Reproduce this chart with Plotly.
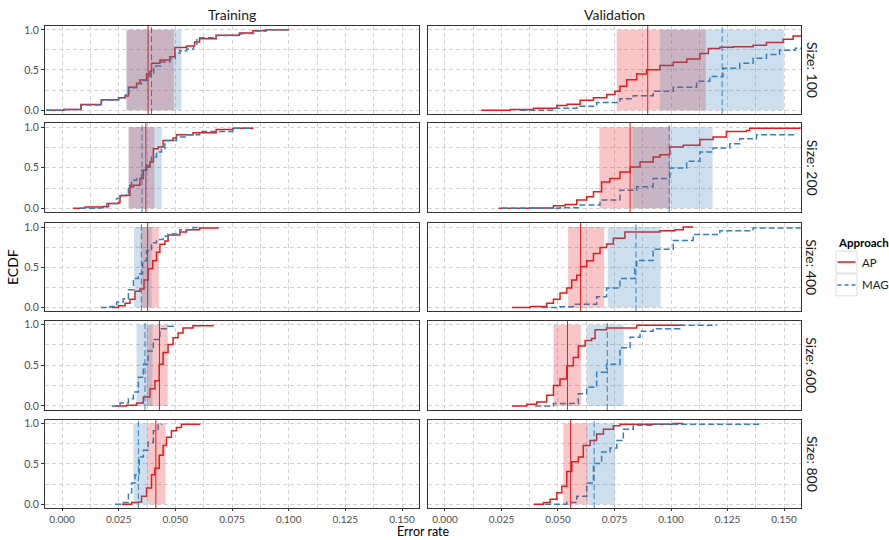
import plotly.graph_objects as go

W, H = 889, 540
RED = "#E41A1C"
BLUE = "#377EB8"
FONT = "Lato"

SIZES = ["100", "200", "400", "600", "800"]
SETS = ["Training", "Validation"]
X_TICKS = [0.0, 0.025, 0.05, 0.075, 0.1, 0.125, 0.15]
Y_TICKS = [0.0, 0.5, 1.0]

# ---------------- ECDF knots (error rate, cumulative share) ----------------
# Training, size 100
TR100_AP_X = [-0.007, 0.0007, 0.0083, 0.0173, 0.0249, 0.0278, 0.0293, 0.0329, 0.0344, 0.0373, 0.0388, 0.0395, 0.0432, 0.0476, 0.0498, 0.0549, 0.0585, 0.0607, 0.068, 0.0783, 0.0842, 0.09, 0.1003]
TR100_AP_Y = [0, 0.008, 0.069, 0.13, 0.155, 0.175, 0.286, 0.335, 0.375, 0.449, 0.482, 0.584, 0.625, 0.665, 0.779, 0.8, 0.85, 0.89, 0.934, 0.96, 0.99, 1.0, 1.0]
TR100_MAG_X = [-0.007, 0.001, 0.0085, 0.0175, 0.025, 0.028, 0.0295, 0.033, 0.035, 0.0375, 0.039, 0.0405, 0.0435, 0.0476, 0.050, 0.052, 0.055, 0.058, 0.0595, 0.068, 0.079, 0.085, 0.09, 0.1]
TR100_MAG_Y = [0, 0.008, 0.065, 0.125, 0.15, 0.19, 0.28, 0.33, 0.37, 0.42, 0.46, 0.55, 0.6, 0.64, 0.71, 0.74, 0.76, 0.8, 0.9, 0.93, 0.955, 0.985, 1.0, 1.0]
# Validation, size 100
VA100_AP_X = [0.016, 0.0289, 0.0392, 0.0495, 0.054, 0.0598, 0.0657, 0.0716, 0.0752, 0.0774, 0.0804, 0.0848, 0.0892, 0.0951, 0.101, 0.107, 0.1128, 0.1165, 0.1216, 0.1275, 0.1363, 0.1422, 0.1496, 0.154, 0.16]
VA100_AP_Y = [0, 0.008, 0.024, 0.057, 0.073, 0.122, 0.155, 0.196, 0.236, 0.298, 0.38, 0.449, 0.502, 0.555, 0.596, 0.637, 0.706, 0.768, 0.784, 0.788, 0.808, 0.841, 0.882, 0.922, 0.922]
VA100_MAG_X = [0.0333, 0.048, 0.0583, 0.0671, 0.0774, 0.0833, 0.0921, 0.101, 0.1113, 0.1172, 0.123, 0.1304, 0.1363, 0.1422, 0.148, 0.155, 0.16]
VA100_MAG_Y = [0, 0.024, 0.049, 0.094, 0.142, 0.179, 0.236, 0.286, 0.359, 0.42, 0.522, 0.584, 0.645, 0.694, 0.747, 0.772, 0.776]
# Training, size 200
TR200_AP_X = [0.0048, 0.0102, 0.0183, 0.0205, 0.0249, 0.0256, 0.0285, 0.03, 0.0315, 0.0344, 0.0359, 0.0373, 0.0388, 0.0403, 0.0424, 0.0446, 0.049, 0.0505, 0.0578, 0.068, 0.0754, 0.0841]
TR200_AP_Y = [0, 0.016, 0.024, 0.061, 0.073, 0.155, 0.163, 0.265, 0.286, 0.367, 0.469, 0.51, 0.571, 0.735, 0.755, 0.837, 0.865, 0.906, 0.93, 0.971, 0.988, 1.0]
TR200_MAG_X = [0.008, 0.0168, 0.0198, 0.0241, 0.0256, 0.0293, 0.0307, 0.0329, 0.0351, 0.0373, 0.0395, 0.0417, 0.0439, 0.0454, 0.0505, 0.0549, 0.0607, 0.0754, 0.0827]
TR200_MAG_Y = [0, 0.008, 0.061, 0.122, 0.163, 0.286, 0.347, 0.367, 0.469, 0.531, 0.633, 0.694, 0.735, 0.837, 0.878, 0.906, 0.947, 0.988, 1.0]
# Validation, size 200
VA200_AP_X = [0.0237, 0.0377, 0.048, 0.0532, 0.0583, 0.0627, 0.0657, 0.0693, 0.073, 0.0774, 0.0819, 0.0863, 0.0921, 0.0951, 0.0995, 0.1054, 0.1128, 0.1186, 0.1245, 0.1334, 0.1348, 0.157]
VA200_AP_Y = [0, 0.004, 0.032, 0.049, 0.102, 0.143, 0.204, 0.326, 0.367, 0.449, 0.51, 0.571, 0.633, 0.661, 0.755, 0.776, 0.849, 0.878, 0.947, 0.959, 0.988, 1.0]
VA200_MAG_X = [0.0251, 0.0509, 0.0598, 0.0686, 0.0774, 0.0848, 0.0921, 0.0995, 0.1069, 0.1128, 0.1186, 0.126, 0.1304, 0.1378, 0.1554]
VA200_MAG_Y = [0, 0.008, 0.04, 0.102, 0.224, 0.265, 0.367, 0.498, 0.58, 0.694, 0.743, 0.796, 0.857, 0.906, 0.918]
# Training, size 400
TR400_AP_X = [0.022, 0.0249, 0.0278, 0.03, 0.0322, 0.0344, 0.0362, 0.038, 0.04, 0.0417, 0.0432, 0.0454, 0.0468, 0.052, 0.0549, 0.0607, 0.0688]
TR400_AP_Y = [0, 0.02, 0.052, 0.1, 0.2, 0.23, 0.34, 0.48, 0.58, 0.685, 0.785, 0.826, 0.9, 0.94, 0.967, 0.987, 1.0]
TR400_MAG_X = [0.0171, 0.0212, 0.0241, 0.027, 0.0293, 0.0315, 0.0337, 0.0356, 0.0373, 0.0395, 0.0417, 0.0446, 0.0468, 0.052, 0.0578, 0.0607]
TR400_MAG_Y = [0, 0.012, 0.068, 0.108, 0.22, 0.36, 0.42, 0.58, 0.705, 0.806, 0.846, 0.887, 0.915, 0.967, 0.995, 1.0]
# Validation, size 400
VA400_AP_X = [0.0296, 0.0377, 0.045, 0.048, 0.0509, 0.0539, 0.0561, 0.0583, 0.06, 0.0627, 0.0657, 0.0686, 0.0715, 0.0745, 0.0796, 0.0951, 0.1017, 0.1054, 0.1098]
VA400_AP_Y = [0, 0.012, 0.052, 0.1, 0.18, 0.24, 0.34, 0.4, 0.51, 0.58, 0.67, 0.745, 0.79, 0.86, 0.94, 0.955, 0.967, 1.0, 1.0]
VA400_MAG_X = [0.0429, 0.0509, 0.0568, 0.0671, 0.0715, 0.0774, 0.084, 0.0848, 0.0921, 0.101, 0.1098, 0.1216, 0.1363, 0.157]
VA400_MAG_Y = [0, 0.008, 0.04, 0.133, 0.24, 0.36, 0.5, 0.585, 0.725, 0.834, 0.907, 0.955, 0.987, 1.0]
# Training, size 600
TR600_AP_X = [0.0234, 0.0285, 0.0329, 0.0359, 0.0388, 0.041, 0.0429, 0.0446, 0.0468, 0.049, 0.0512, 0.0534, 0.0578, 0.0666]
TR600_AP_Y = [0, 0.008, 0.036, 0.109, 0.21, 0.31, 0.514, 0.656, 0.757, 0.838, 0.899, 0.96, 0.988, 1.0]
TR600_MAG_X = [0.022, 0.0256, 0.0293, 0.0315, 0.0337, 0.0359, 0.038, 0.0403, 0.0432, 0.0461, 0.049]
TR600_MAG_Y = [0, 0.036, 0.089, 0.17, 0.352, 0.514, 0.676, 0.818, 0.951, 0.98, 1.0]
# Validation, size 600
VA600_AP_X = [0.0296, 0.0362, 0.0406, 0.045, 0.048, 0.0509, 0.0539, 0.0568, 0.059, 0.062, 0.0649, 0.0664, 0.0715, 0.0848, 0.1054]
VA600_AP_Y = [0, 0.02, 0.049, 0.13, 0.251, 0.332, 0.494, 0.595, 0.737, 0.806, 0.83, 0.939, 0.96, 0.992, 1.0]
VA600_MAG_X = [0.0399, 0.048, 0.059, 0.0627, 0.0671, 0.0715, 0.0774, 0.0819, 0.0863, 0.0921, 0.1039, 0.1201]
VA600_MAG_Y = [0, 0.028, 0.15, 0.231, 0.413, 0.514, 0.717, 0.846, 0.919, 0.951, 0.992, 1.0]
# Training, size 800
TR800_AP_X = [0.0264, 0.0307, 0.0337, 0.0351, 0.0373, 0.0395, 0.041, 0.0429, 0.0446, 0.0461, 0.0483, 0.0505, 0.0527, 0.0607]
TR800_AP_Y = [0, 0.02, 0.028, 0.1, 0.2, 0.364, 0.445, 0.607, 0.729, 0.83, 0.911, 0.951, 0.992, 1.0]
TR800_MAG_X = [0.0234, 0.0271, 0.0293, 0.0307, 0.0322, 0.0341, 0.0359, 0.038, 0.0403, 0.0424, 0.0439]
TR800_MAG_Y = [0, 0.02, 0.142, 0.263, 0.364, 0.587, 0.668, 0.769, 0.911, 0.992, 1.0]
# Validation, size 800
VA800_AP_X = [0.0392, 0.0436, 0.0465, 0.0495, 0.0517, 0.0539, 0.0561, 0.059, 0.0612, 0.0642, 0.0671, 0.0701, 0.0745, 0.0774, 0.101, 0.1054]
VA800_AP_Y = [0, 0.02, 0.061, 0.142, 0.223, 0.405, 0.526, 0.587, 0.729, 0.789, 0.87, 0.931, 0.972, 0.992, 1.0, 1.0]
VA800_MAG_X = [0.0443, 0.0539, 0.0583, 0.0627, 0.0657, 0.0693, 0.073, 0.076, 0.0789, 0.0833, 0.0921, 0.1386]
VA800_MAG_Y = [0, 0.02, 0.1, 0.263, 0.506, 0.648, 0.696, 0.789, 0.931, 0.98, 0.992, 1.0]

# ---------------- medians and interquartile ranges (per size) ----------------
TR_AP_MED = [0.0380, 0.0370, 0.0378, 0.0430, 0.0414]
TR_MAG_MED = [0.0395, 0.0353, 0.0350, 0.0366, 0.0337]
VA_AP_MED = [0.0897, 0.0819, 0.0600, 0.0542, 0.0556]
VA_MAG_MED = [0.1226, 0.0992, 0.0845, 0.0718, 0.0660]

TR_AP_Q1 = [0.0286, 0.0294, 0.0351, 0.0373, 0.0376]
TR_AP_Q3 = [0.0493, 0.0408, 0.0427, 0.0466, 0.0457]
TR_MAG_Q1 = [0.0283, 0.0294, 0.0318, 0.0329, 0.0315]
TR_MAG_Q3 = [0.0527, 0.0440, 0.0395, 0.0399, 0.0376]
VA_AP_Q1 = [0.0760, 0.0683, 0.0545, 0.0480, 0.0524]
VA_AP_Q3 = [0.1154, 0.0995, 0.0704, 0.0602, 0.0630]
VA_MAG_Q1 = [0.0951, 0.0830, 0.0720, 0.0627, 0.0627]
VA_MAG_Q3 = [0.1499, 0.1184, 0.0954, 0.0791, 0.0752]

CURVES = {
    (0, 0): (TR100_AP_X, TR100_AP_Y, TR100_MAG_X, TR100_MAG_Y),
    (0, 1): (VA100_AP_X, VA100_AP_Y, VA100_MAG_X, VA100_MAG_Y),
    (1, 0): (TR200_AP_X, TR200_AP_Y, TR200_MAG_X, TR200_MAG_Y),
    (1, 1): (VA200_AP_X, VA200_AP_Y, VA200_MAG_X, VA200_MAG_Y),
    (2, 0): (TR400_AP_X, TR400_AP_Y, TR400_MAG_X, TR400_MAG_Y),
    (2, 1): (VA400_AP_X, VA400_AP_Y, VA400_MAG_X, VA400_MAG_Y),
    (3, 0): (TR600_AP_X, TR600_AP_Y, TR600_MAG_X, TR600_MAG_Y),
    (3, 1): (VA600_AP_X, VA600_AP_Y, VA600_MAG_X, VA600_MAG_Y),
    (4, 0): (TR800_AP_X, TR800_AP_Y, TR800_MAG_X, TR800_MAG_Y),
    (4, 1): (VA800_AP_X, VA800_AP_Y, VA800_MAG_X, VA800_MAG_Y),
}
STATS = {
    0: (TR_AP_MED, TR_MAG_MED, TR_AP_Q1, TR_AP_Q3, TR_MAG_Q1, TR_MAG_Q3),
    1: (VA_AP_MED, VA_MAG_MED, VA_AP_Q1, VA_AP_Q3, VA_MAG_Q1, VA_MAG_Q3),
}

# ---------------- layout geometry (pixels) ----------------
COL_PX = [(45, 419), (428, 801)]
ROW_PX = [(24, 113), (122, 212), (222.7, 311.7), (321, 411), (420.7, 510)]

def px_x(p):
    return p / W

def px_y(p):
    return 1 - p / H

fig = go.Figure()
shapes = []
annotations = []
layout = {}

GRID = dict(showgrid=True, gridcolor="#d2d2d2", gridwidth=1, griddash="4px,3px")

for r in range(5):
    for c in range(2):
        n = r * 2 + c + 1
        xs = "x" if n == 1 else f"x{n}"
        ys = "y" if n == 1 else f"y{n}"
        xk = "xaxis" if n == 1 else f"xaxis{n}"
        yk = "yaxis" if n == 1 else f"yaxis{n}"
        bottom = r == 4
        left = c == 0
        layout[xk] = dict(
            domain=[px_x(COL_PX[c][0]), px_x(COL_PX[c][1])],
            anchor=ys, range=[-0.0075, 0.1575],
            tickvals=X_TICKS, ticktext=[f"{v:.3f}" for v in X_TICKS],
            showticklabels=bottom, ticks="outside" if bottom else "",
            ticklen=2, tickcolor="#333333",
            tickfont=dict(family=FONT, size=10, color="#4d4d4d"),
            showline=True, mirror=True, linecolor="#333333", linewidth=1,
            zeroline=False,
            minor=dict(tickvals=[0.0125, 0.0375, 0.0625, 0.0875, 0.1125, 0.1375],
                       showgrid=True, gridcolor="#d2d2d2", gridwidth=1, griddash="4px,3px"),
            **GRID,
        )
        layout[yk] = dict(
            domain=[px_y(ROW_PX[r][1]), px_y(ROW_PX[r][0])],
            anchor=xs, range=[-0.05, 1.05],
            tickvals=Y_TICKS, ticktext=[f"{v:.1f}" for v in Y_TICKS],
            showticklabels=left, ticks="outside" if left else "",
            ticklen=3, tickcolor="#333333",
            tickfont=dict(family=FONT, size=10.5, color="#4d4d4d"),
            showline=True, mirror=True, linecolor="#333333", linewidth=1,
            zeroline=False,
            minor=dict(tickvals=[0.25, 0.75], showgrid=True, gridcolor="#d2d2d2",
                       gridwidth=1, griddash="4px,3px"),
            **GRID,
        )
        ax, ay, mx, my = CURVES[(r, c)]
        fig.add_trace(go.Scatter(x=ax, y=ay, mode="lines", xaxis=xs, yaxis=ys,
                                 line=dict(color=RED, width=1.5, shape="hv"),
                                 showlegend=False, hoverinfo="skip"))
        fig.add_trace(go.Scatter(x=mx, y=my, mode="lines", xaxis=xs, yaxis=ys,
                                 line=dict(color=BLUE, width=1.5, shape="hv", dash="6px,3px"),
                                 showlegend=False, hoverinfo="skip"))
        amed, mmed, aq1, aq3, mq1, mq3 = STATS[c]
        shapes.append(dict(type="line", xref=xs, yref=f"{ys} domain", x0=amed[r], x1=amed[r],
                           y0=0, y1=1, line=dict(color=RED, width=1), layer="above"))
        shapes.append(dict(type="line", xref=xs, yref=f"{ys} domain", x0=mmed[r], x1=mmed[r],
                           y0=0, y1=1, line=dict(color=BLUE, width=1, dash="6px,3px"), layer="above"))
        shapes.append(dict(type="rect", xref=xs, yref=ys, x0=aq1[r], x1=aq3[r], y0=0, y1=1,
                           fillcolor=RED, opacity=0.25, line=dict(width=0), layer="above"))
        shapes.append(dict(type="rect", xref=xs, yref=ys, x0=mq1[r], x1=mq3[r], y0=0, y1=1,
                           fillcolor=BLUE, opacity=0.25, line=dict(width=0), layer="above"))

def note(text, x, y, size=14, color="#1a1a1a", angle=0, xanchor="center", pad=1):
    annotations.append(dict(text=text, x=px_x(x), y=px_y(y), xref="paper", yref="paper",
                            xanchor=xanchor, yanchor="middle", showarrow=False, textangle=angle,
                            borderpad=pad, font=dict(family=FONT, size=size, color=color)))

# strip labels
for c in range(2):
    note(SETS[c], (COL_PX[c][0] + COL_PX[c][1]) / 2, 13)
for r in range(5):
    note(f"Size: {SIZES[r]}", 812, (ROW_PX[r][0] + ROW_PX[r][1]) / 2, angle=90)
# axis titles
note("ECDF", 12, 267, color="#000000", angle=-90)
note("Error rate", 423, 533.5, size=12.5, color="#000000", pad=0)

# legend (drawn manually, ggplot style)
note("<b>Approach</b>", 836, 242, size=11.5, color="#000000", xanchor="left")
for i, (lab, colr, dsh) in enumerate([("AP", RED, "solid"), ("MAG", BLUE, "4px,3px")]):
    top = 251 + i * 23
    shapes.append(dict(type="rect", xref="paper", yref="paper", x0=px_x(836), x1=px_x(857),
                       y0=px_y(top + 22), y1=px_y(top), fillcolor="#ffffff",
                       line=dict(color="#dcdcdc", width=1), layer="above"))
    shapes.append(dict(type="line", xref="paper", yref="paper", x0=px_x(837.5), x1=px_x(855.5),
                       y0=px_y(top + 11), y1=px_y(top + 11), line=dict(color=colr, width=1.5, dash=dsh),
                       layer="above"))
    note(lab, 860, top + 11, size=11.5, xanchor="left")

fig.update_layout(
    width=W, height=H, margin=dict(l=0, r=0, t=0, b=0),
    paper_bgcolor="#ffffff", plot_bgcolor="#ffffff",
    showlegend=False, shapes=shapes, annotations=annotations, **layout,
)

fig.write_html("out.html", config={"displayModeBar": False},
               post_script="document.body.style.margin='0';document.body.style.padding='0';")
